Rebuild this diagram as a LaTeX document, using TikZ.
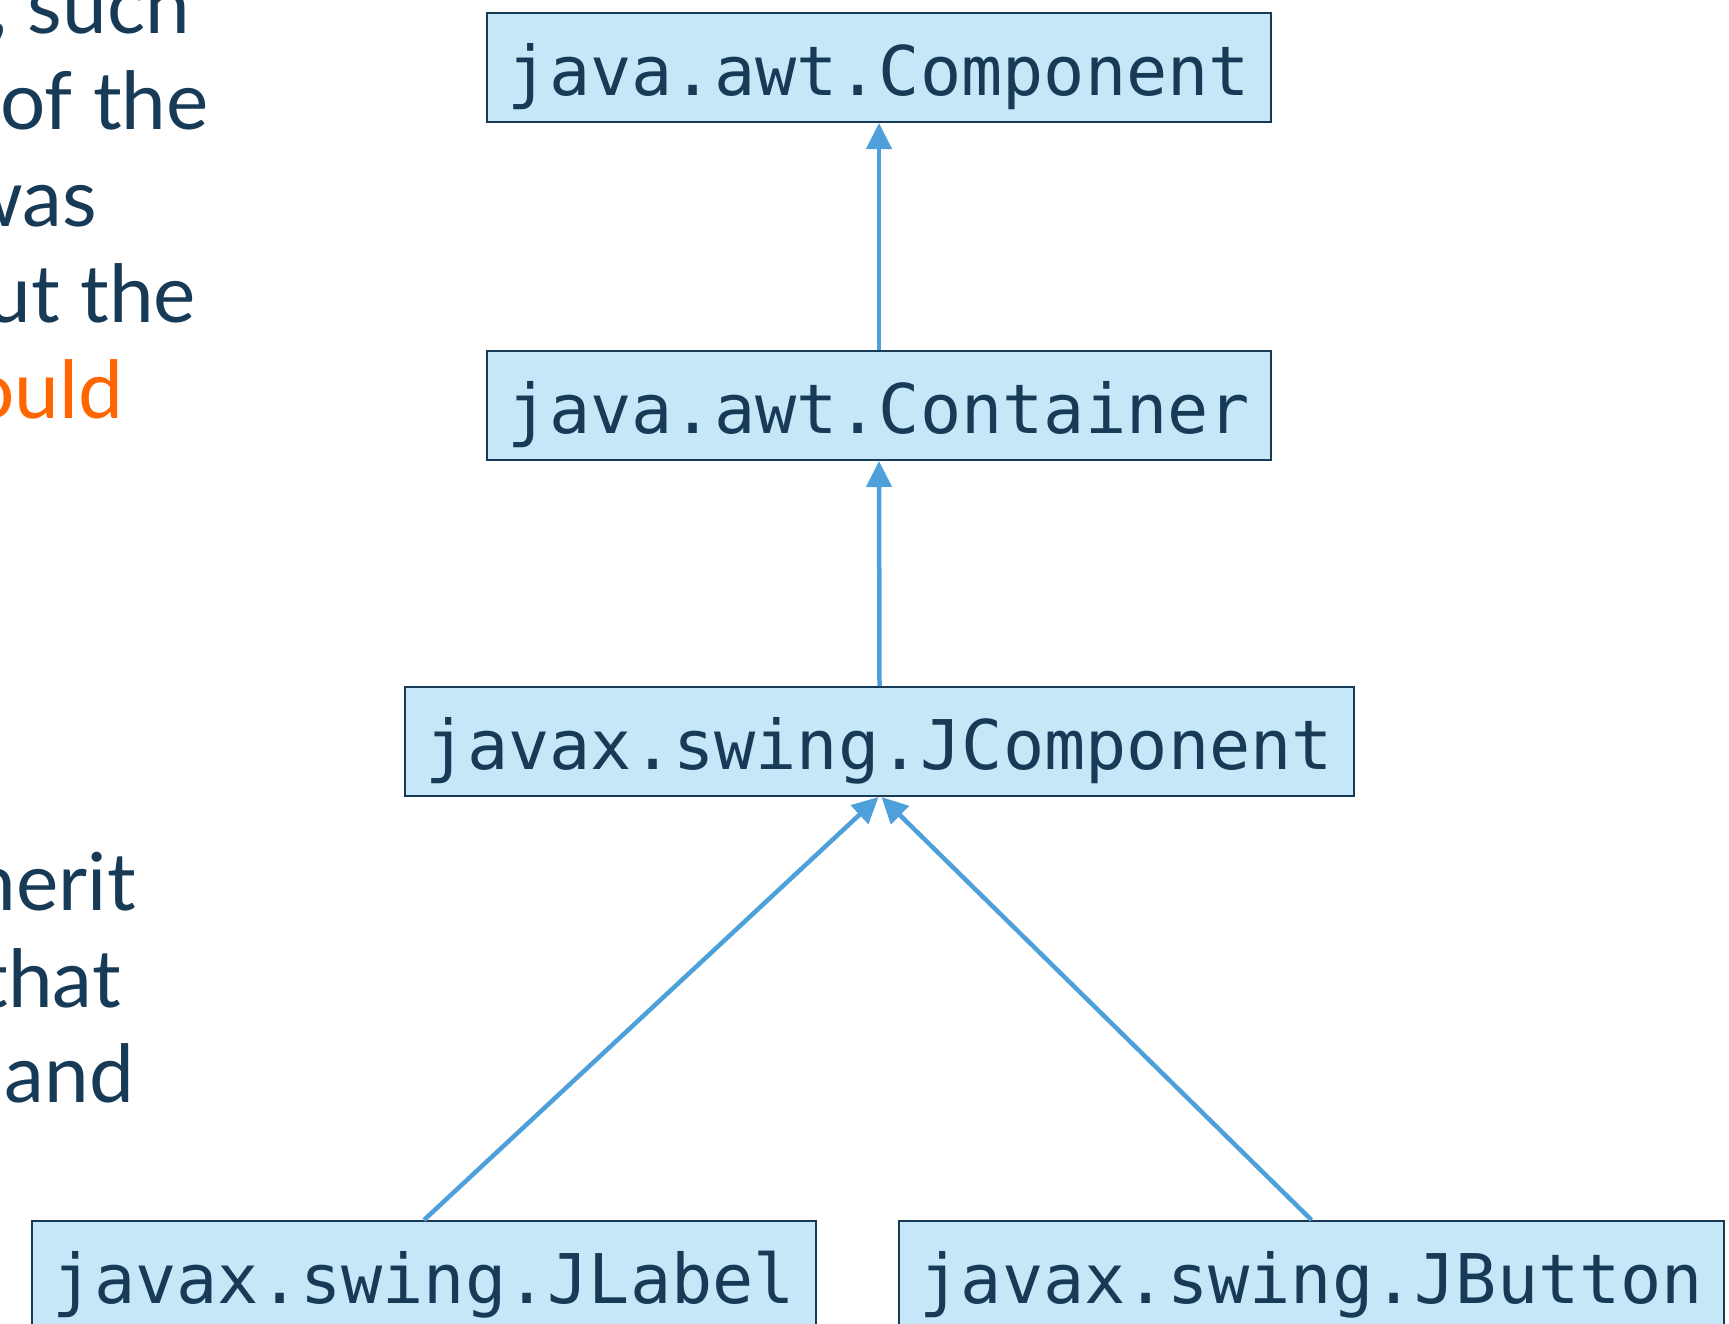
\documentclass[tikz,border=0pt]{standalone}
\usepackage{fontspec}
\setmainfont{Lato}
\newfontfamily\codefont{DejaVu Sans Mono}
\usetikzlibrary{arrows.meta}
\definecolor{inkblue}{RGB}{23,58,86}
\definecolor{accent}{RGB}{255,102,0}
\definecolor{boxfill}{RGB}{197,231,247}
\definecolor{linkblue}{RGB}{78,160,218}
\tikzset{
  classbox/.style={draw=inkblue, line width=2pt, fill=boxfill, text=inkblue,
    font=\codefont\fontsize{68.5}{68.5}\selectfont,
    inner xsep=21pt, inner ysep=0pt, text height=82pt, text depth=27pt},
  inherits/.style={draw=linkblue, line width=4.5pt,
    -{Triangle[length=26pt,width=25pt]}},
  bodytext/.style={anchor=base east, inner sep=0pt, text=inkblue,
    font=\fontsize{80}{80}\selectfont}
}
\begin{document}
\begin{tikzpicture}[x=1pt,y=-1pt]
\useasboundingbox (0,0) rectangle (1729,1323);
\clip (0,0) rectangle (1729,1323);

% fragments of the running text beside the diagram
\node[bodytext] (t1) at (190,33) {, such};
\node[bodytext] (t2) at (209,129) {of the};
\node[bodytext] (t3) at (97,226) {was};
\node[bodytext] (t4) at (196,322) {ut the};
\node[bodytext, text=accent] (t5) at (123,418) {ould};
\node[bodytext] (t6) at (136,910) {herit};
\node[bodytext] (t7) at (121,1007) {that};
\node[bodytext] (t8) at (134,1102) {and};

% class hierarchy
\node[classbox] (comp) at (879,67.5) {java.awt.Component};
\node[classbox] (cont) at (879,405.5) {java.awt.Container};
\node[classbox] (jcomp) at (879.5,741.5) {javax.swing.JComponent};
\node[classbox] (jlabel) at (424,1275.5) {javax.swing.JLabel};
\node[classbox] (jbutton) at (1311.5,1275.5) {javax.swing.JButton};

\draw[inherits] (cont.north) -- (comp.south);
\draw[inherits] (jcomp.north) -- (cont.south);
\draw[inherits] (jlabel.north) -- ([xshift=-1pt]jcomp.south);
\draw[inherits] (jbutton.north) -- ([xshift=2pt]jcomp.south);
\end{tikzpicture}
\end{document}
